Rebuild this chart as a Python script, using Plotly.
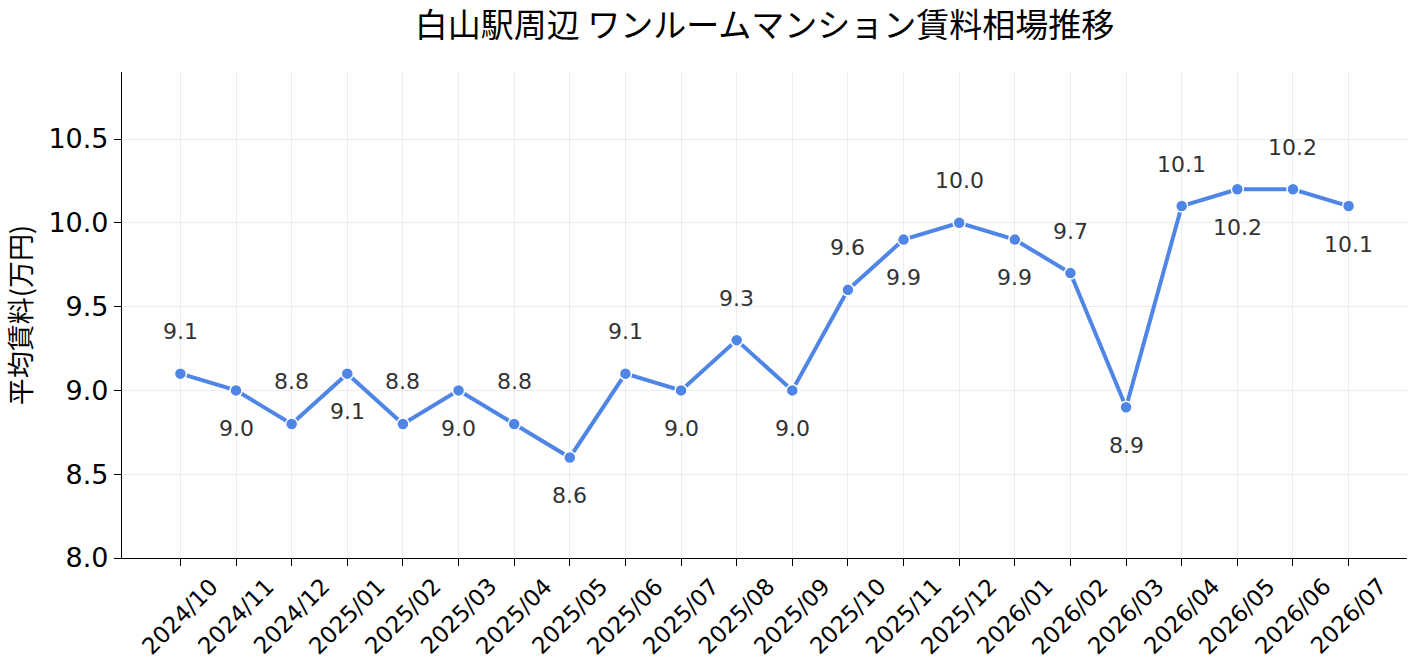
import plotly.graph_objects as go

months = ["2024/10","2024/11","2024/12","2025/01","2025/02","2025/03","2025/04","2025/05",
          "2025/06","2025/07","2025/08","2025/09","2025/10","2025/11","2025/12","2026/01",
          "2026/02","2026/03","2026/04","2026/05","2026/06","2026/07"]
rents = [9.1, 9.0, 8.8, 9.1, 8.8, 9.0, 8.8, 8.6, 9.1, 9.0, 9.3, 9.0, 9.6, 9.9, 10.0, 9.9,
         9.7, 8.9, 10.1, 10.2, 10.2, 10.1]
yticks = [8.0, 8.5, 9.0, 9.5, 10.0, 10.5]

FONT = "DejaVu Sans, Noto Sans CJK JP"
JFONT = "Noto Sans CJK JP"
xs = list(range(len(months)))

fig = go.Figure()
fig.add_trace(go.Scatter(
    x=xs, y=rents, mode="lines+markers",
    line=dict(color="#4f86e5", width=4),
    marker=dict(size=12, color="#4f86e5", line=dict(color="white", width=1.5)),
    hoverinfo="skip", showlegend=False,
))

for i, v in enumerate(rents):
    fig.add_annotation(x=i, y=v, xref="x", yref="y", text=f"{v:.1f}", showarrow=False,
                       yshift=(42 if i % 2 == 0 else -38),
                       font=dict(family=FONT, size=22, color="#333333"))

# month labels, rotated 45 degrees and centred under each tick
for i, m in enumerate(months):
    fig.add_annotation(x=i, y=0, xref="x", yref="paper", text=m, showarrow=False,
                       textangle=-45, xanchor="center", yanchor="middle", yshift=-58,
                       font=dict(family=FONT, size=23, color="black"))

fig.update_layout(
    width=1418, height=671, autosize=False,
    margin=dict(l=122, r=11, t=72, b=113, autoexpand=False),
    paper_bgcolor="white", plot_bgcolor="white",
    title=dict(text="白山駅周辺 ワンルームマンション賃料相場推移", x=0.5, xref="paper",
               xanchor="center", y=0.962, yanchor="middle",
               font=dict(family=JFONT, size=33, color="black")),
    font=dict(family=FONT),
)
fig.update_xaxes(
    range=[-1.05, 22.05], tickmode="array", tickvals=xs, showticklabels=False,
    showline=True, linecolor="black", linewidth=1.2, ticks="outside", ticklen=7,
    tickcolor="black", showgrid=True, gridcolor="#ececec", gridwidth=1, zeroline=False,
    automargin=False,
)
fig.update_yaxes(
    range=[8.0, 10.9], tickmode="array", tickvals=yticks,
    ticktext=[f"{t:.1f}" for t in yticks], tickfont=dict(family=FONT, size=27, color="black"),
    showline=True, linecolor="black", linewidth=1.2, ticks="outside", ticklen=7,
    tickcolor="black", showgrid=True, gridcolor="#ececec", gridwidth=1, zeroline=False,
    automargin=False,
    title=dict(text="平均賃料(万円)", font=dict(family=JFONT, size=27, color="black"), standoff=8),
)

fig.write_html("out.html", config={"responsive": False})
